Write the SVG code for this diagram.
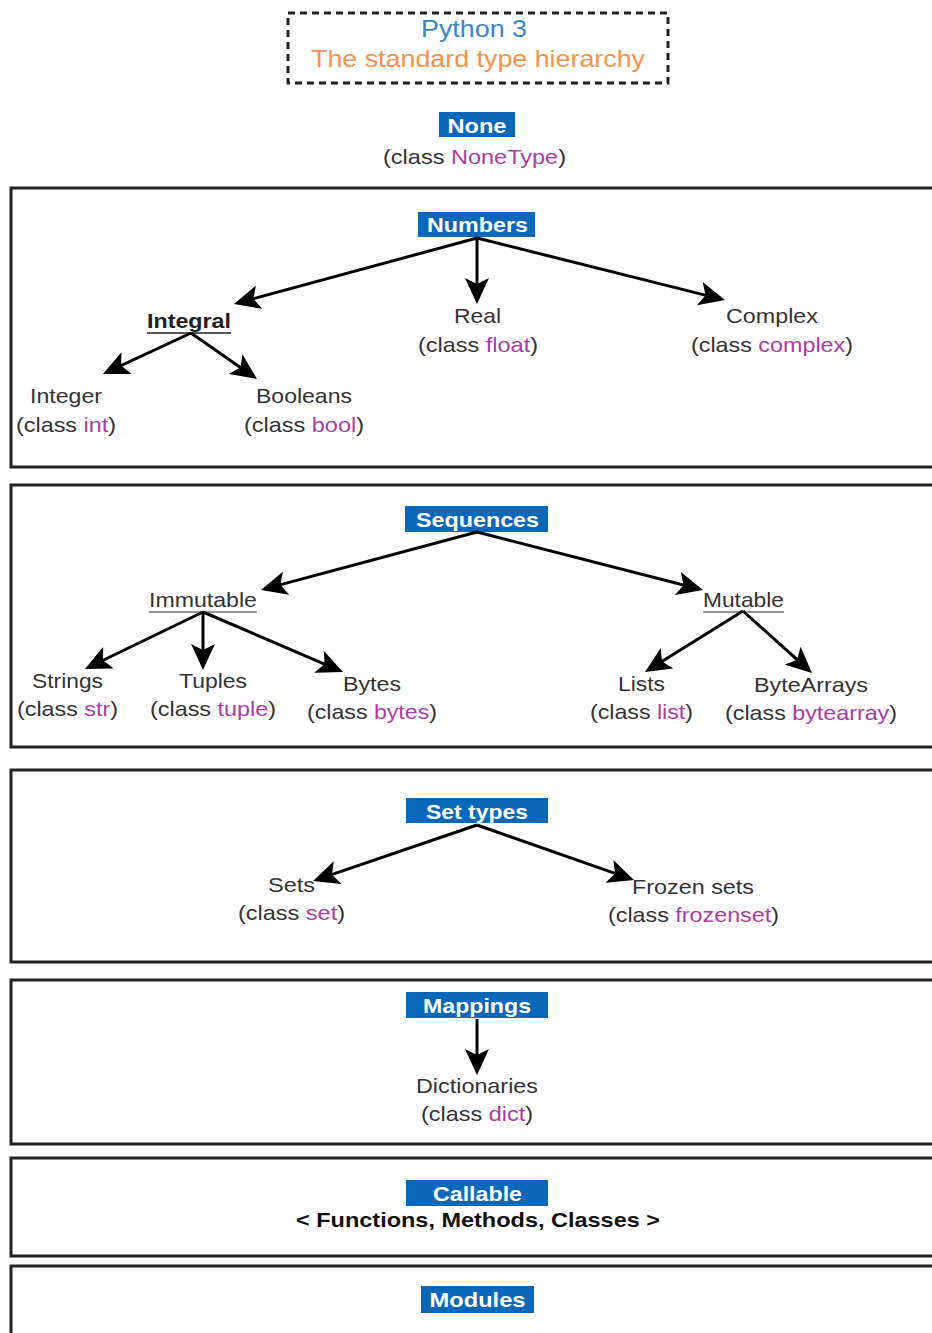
<svg xmlns="http://www.w3.org/2000/svg" width="932" height="1333" viewBox="0 0 932 1333">
<style>
.t{font-family:"Liberation Sans",Arial,sans-serif;font-size:21px;fill:#333;text-anchor:middle}
.b{font-family:"Liberation Sans",Arial,sans-serif;font-size:21px;font-weight:bold;fill:#fff;text-anchor:middle}
.k{fill:#a93ca9}
.box{fill:#0b67b7}
.panel{fill:none;stroke:#222;stroke-width:3}
.c{stroke:#000;stroke-width:3;fill:none;marker-end:url(#ah)}
</style>
<defs>
<marker id="ah" markerUnits="userSpaceOnUse" markerWidth="26" markerHeight="24" refX="18" refY="12" orient="auto">
<path d="M0,0 L26,12 L0,24 L6,12 z" fill="#000"/>
</marker>
</defs>
<rect width="932" height="1333" fill="#fff"/>

<g id="title">
<rect x="288" y="13" width="380" height="70" fill="none" stroke="#222" stroke-width="3" stroke-dasharray="7 5"/>
<text x="474" y="37" class="t" style="font-size:24px;fill:#3a86c8" textLength="106" lengthAdjust="spacingAndGlyphs">Python 3</text>
<text x="478" y="67" class="t" style="font-size:24px;fill:#f5934a" textLength="334" lengthAdjust="spacingAndGlyphs">The standard type hierarchy</text>
</g>

<g id="none">
<rect class="box" x="439" y="112" width="76" height="25"/>
<text x="477" y="133" class="b" textLength="59" lengthAdjust="spacingAndGlyphs">None</text>
<text x="474.5" y="164" class="t" textLength="183" lengthAdjust="spacingAndGlyphs">(class <tspan class="k">NoneType</tspan>)</text>
</g>

<g id="panels">
<rect class="panel" x="11" y="188" width="935" height="279"/>
<rect class="panel" x="11" y="485" width="935" height="262"/>
<rect class="panel" x="11" y="770" width="935" height="192"/>
<rect class="panel" x="11" y="980" width="935" height="164"/>
<rect class="panel" x="11" y="1158" width="935" height="98"/>
<rect class="panel" x="11" y="1266" width="935" height="100"/>
</g>

<g id="numbers">
<rect class="box" x="418" y="212" width="117" height="25"/>
<text x="477.5" y="232" class="b" textLength="101" lengthAdjust="spacingAndGlyphs">Numbers</text>
</g>
<g id="integral">
<text x="189" y="328" class="t" style="font-weight:bold;fill:#222" textLength="84" lengthAdjust="spacingAndGlyphs">Integral</text>
<line x1="147" y1="333" x2="231" y2="333" stroke="#222" stroke-width="1.5"/>
</g>
<g id="real">
<text x="477.5" y="323" class="t" textLength="47" lengthAdjust="spacingAndGlyphs">Real</text>
<text x="478" y="352" class="t" textLength="120" lengthAdjust="spacingAndGlyphs">(class <tspan class="k">float</tspan>)</text>
</g>
<g id="complex">
<text x="772" y="323" class="t" textLength="92" lengthAdjust="spacingAndGlyphs">Complex</text>
<text x="772" y="352" class="t" textLength="162" lengthAdjust="spacingAndGlyphs">(class <tspan class="k">complex</tspan>)</text>
</g>
<g id="integer">
<text x="66" y="403" class="t" textLength="72" lengthAdjust="spacingAndGlyphs">Integer</text>
<text x="66" y="432" class="t" textLength="100" lengthAdjust="spacingAndGlyphs">(class <tspan class="k">int</tspan>)</text>
</g>
<g id="booleans">
<text x="304" y="403" class="t" textLength="96" lengthAdjust="spacingAndGlyphs">Booleans</text>
<text x="304" y="432" class="t" textLength="120" lengthAdjust="spacingAndGlyphs">(class <tspan class="k">bool</tspan>)</text>
</g>

<g id="sequences">
<rect class="box" x="405" y="506" width="143" height="26"/>
<text x="477.5" y="527" class="b" textLength="123" lengthAdjust="spacingAndGlyphs">Sequences</text>
</g>
<g id="immutable">
<text x="203" y="607" class="t" textLength="108" lengthAdjust="spacingAndGlyphs">Immutable</text>
<line x1="149" y1="612" x2="257" y2="612" stroke="#999" stroke-width="2"/>
</g>
<g id="mutable">
<text x="743.5" y="607" class="t" textLength="81" lengthAdjust="spacingAndGlyphs">Mutable</text>
<line x1="703" y1="612" x2="784" y2="612" stroke="#999" stroke-width="2"/>
</g>
<g id="strings">
<text x="67.5" y="688" class="t" textLength="71" lengthAdjust="spacingAndGlyphs">Strings</text>
<text x="67.5" y="716" class="t" textLength="101" lengthAdjust="spacingAndGlyphs">(class <tspan class="k">str</tspan>)</text>
</g>
<g id="tuples">
<text x="213" y="688" class="t" textLength="68" lengthAdjust="spacingAndGlyphs">Tuples</text>
<text x="213" y="716" class="t" textLength="126" lengthAdjust="spacingAndGlyphs">(class <tspan class="k">tuple</tspan>)</text>
</g>
<g id="bytes">
<text x="372" y="691" class="t" textLength="58" lengthAdjust="spacingAndGlyphs">Bytes</text>
<text x="372" y="719" class="t" textLength="130" lengthAdjust="spacingAndGlyphs">(class <tspan class="k">bytes</tspan>)</text>
</g>
<g id="lists">
<text x="641.5" y="691" class="t" textLength="47" lengthAdjust="spacingAndGlyphs">Lists</text>
<text x="641.5" y="719" class="t" textLength="103" lengthAdjust="spacingAndGlyphs">(class <tspan class="k">list</tspan>)</text>
</g>
<g id="bytearrays">
<text x="811" y="692" class="t" textLength="114" lengthAdjust="spacingAndGlyphs">ByteArrays</text>
<text x="811" y="720" class="t" textLength="172" lengthAdjust="spacingAndGlyphs">(class <tspan class="k">bytearray</tspan>)</text>
</g>

<g id="settypes">
<rect class="box" x="406" y="798" width="142" height="25"/>
<text x="477" y="819" class="b" textLength="102" lengthAdjust="spacingAndGlyphs">Set types</text>
</g>
<g id="sets">
<text x="291.5" y="892" class="t" textLength="47" lengthAdjust="spacingAndGlyphs">Sets</text>
<text x="291.5" y="920" class="t" textLength="107" lengthAdjust="spacingAndGlyphs">(class <tspan class="k">set</tspan>)</text>
</g>
<g id="frozensets">
<text x="693" y="894" class="t" textLength="122" lengthAdjust="spacingAndGlyphs">Frozen sets</text>
<text x="693.5" y="922" class="t" textLength="171" lengthAdjust="spacingAndGlyphs">(class <tspan class="k">frozenset</tspan>)</text>
</g>

<g id="mappings">
<rect class="box" x="406" y="992" width="142" height="26"/>
<text x="477" y="1013" class="b" textLength="108" lengthAdjust="spacingAndGlyphs">Mappings</text>
</g>
<g id="dictionaries">
<text x="477" y="1093" class="t" textLength="122" lengthAdjust="spacingAndGlyphs">Dictionaries</text>
<text x="477" y="1121" class="t" textLength="112" lengthAdjust="spacingAndGlyphs">(class <tspan class="k">dict</tspan>)</text>
</g>

<g id="callable">
<rect class="box" x="406" y="1180" width="142" height="26"/>
<text x="477.5" y="1201" class="b" textLength="89" lengthAdjust="spacingAndGlyphs">Callable</text>
<text x="478" y="1227" class="t" style="font-weight:bold;fill:#111" textLength="364" lengthAdjust="spacingAndGlyphs">&lt; Functions, Methods, Classes &gt;</text>
</g>

<g id="modules">
<rect class="box" x="421" y="1286" width="113" height="27"/>
<text x="477.5" y="1307" class="b" textLength="96" lengthAdjust="spacingAndGlyphs">Modules</text>
</g>

<g id="connectors">
<line class="c" x1="477" y1="238" x2="241.7" y2="301.9"/>
<line class="c" x1="477" y1="238" x2="477" y2="296"/>
<line class="c" x1="477" y1="238" x2="717.2" y2="298.1"/>
<line class="c" x1="191" y1="333" x2="110.2" y2="370.6"/>
<line class="c" x1="191" y1="333" x2="250.4" y2="374.4"/>
<line class="c" x1="477" y1="532" x2="268.7" y2="587.9"/>
<line class="c" x1="477" y1="532" x2="695.2" y2="588"/>
<line class="c" x1="203" y1="612" x2="92.2" y2="665.5"/>
<line class="c" x1="203" y1="612" x2="203" y2="662"/>
<line class="c" x1="203" y1="612" x2="335.6" y2="668.8"/>
<line class="c" x1="743" y1="611" x2="651.8" y2="667.8"/>
<line class="c" x1="743" y1="611" x2="806" y2="667.7"/>
<line class="c" x1="477" y1="825" x2="320.6" y2="878.4"/>
<line class="c" x1="477" y1="825" x2="626.4" y2="877.4"/>
<line class="c" x1="477" y1="1019" x2="477" y2="1067"/>
</g>
</svg>
